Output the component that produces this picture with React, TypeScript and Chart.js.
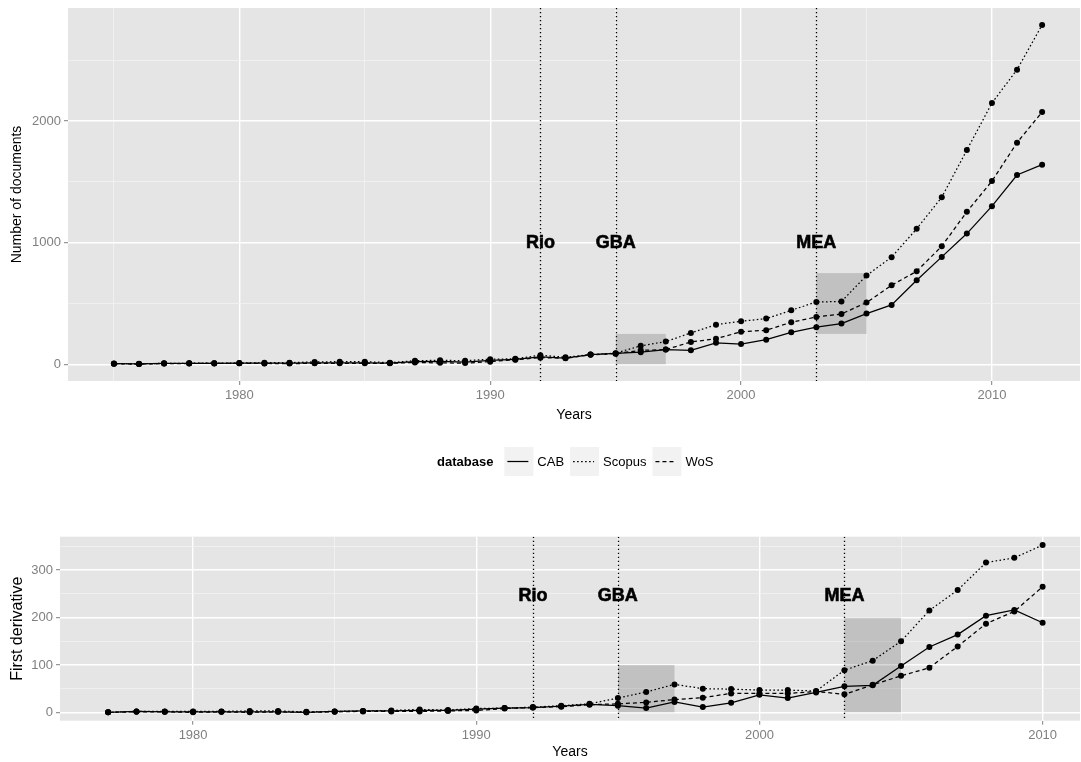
import React, { useEffect, useRef } from "react";
import { Chart, registerables } from "chart.js";

Chart.register(...registerables);

const FONT = '"Liberation Sans", Arial, Helvetica, sans-serif';

// ---------- data ----------
const docYears = [
  1975, 1976, 1977, 1978, 1979, 1980, 1981, 1982, 1983, 1984, 1985, 1986, 1987,
  1988, 1989, 1990, 1991, 1992, 1993, 1994, 1995, 1996, 1997, 1998, 1999, 2000,
  2001, 2002, 2003, 2004, 2005, 2006, 2007, 2008, 2009, 2010, 2011, 2012,
];
const cabDocs = [
  5, 3, 7, 8, 8, 9, 9, 10, 11, 13, 12, 10, 22, 24, 18, 33, 40, 62, 52, 80, 90,
  100, 121, 115, 177, 167, 203, 263, 305, 335, 417, 488, 691, 883, 1075, 1300,
  1556, 1641,
];
const scopusDocs = [
  6, 4, 8, 9, 9, 11, 13, 14, 20, 22, 22, 14, 30, 33, 30, 42, 45, 75, 58, 80, 92,
  152, 187, 258, 326, 354, 376, 444, 513, 516, 730, 881, 1114, 1374, 1761, 2148,
  2422, 2790,
];
const wosDocs = [
  4, 2, 6, 7, 7, 8, 7, 6, 8, 8, 9, 8, 15, 12, 10, 22, 38, 55, 50, 78, 88, 115,
  121, 184, 210, 268, 280, 346, 389, 414, 508, 650, 765, 971, 1254, 1506, 1822,
  2074,
];

const derivYears = [
  1977, 1978, 1979, 1980, 1981, 1982, 1983, 1984, 1985, 1986, 1987, 1988, 1989,
  1990, 1991, 1992, 1993, 1994, 1995, 1996, 1997, 1998, 1999, 2000, 2001, 2002,
  2003, 2004, 2005, 2006, 2007, 2008, 2009, 2010,
];
const cabDeriv = [
  0, 2, 1, 1, 1, 1, 1, 0, 2, 3, 3, 4, 4, 7, 9, 10, 13, 17, 14, 9, 22, 11, 20,
  37, 30, 42, 55, 57, 98, 138, 164, 204, 216, 189,
];
const scopusDeriv = [
  0, 2, 2, 2, 2, 3, 3, 1, 2, 3, 4, 6, 5, 8, 9, 11, 14, 18, 30, 43, 59, 50, 49,
  47, 47, 45, 89, 109, 150, 215, 258, 316, 326, 353,
];
const wosDeriv = [
  0, 1, 1, 0, 1, 0, 1, 0, 1, 2, 2, 2, 3, 4, 8, 10, 12, 16, 18, 21, 27, 31, 40,
  40, 40, 44, 38, 58, 77, 94, 139, 187, 213, 265,
];

const seriesNames = ["CAB", "Scopus", "WoS"];
const seriesDash = [[], [1.6, 2.4], [4, 3]];

const eventNames = ["Rio", "GBA", "MEA"];
const eventYears = [1992, 1995, 2003];

const shadeStart = [1995, 2003];
const shadeEnd = [1997, 2005];
const topShadeLow = [0, 250];
const topShadeHigh = [250, 750];
const bottomShadeLow = [0, 0];
const bottomShadeHigh = [100, 200];

const topLabelValue = 1000;
const bottomLabelValue = 245;

const yearTicks = [1975, 1980, 1985, 1990, 1995, 2000, 2005, 2010, 2015];
const docTicks = [0, 500, 1000, 1500, 2000, 2500];
const derivTicks = [0, 50, 100, 150, 200, 250, 300, 350];

// ---------- helpers ----------
function makeDatasets(years: number[], series: number[][]) {
  return series.map((vals, i) => ({
    label: seriesNames[i],
    data: years.map((yr, j) => ({ x: yr, y: vals[j] })),
    borderColor: "#000",
    backgroundColor: "#000",
    borderWidth: 1.25,
    borderDash: seriesDash[i],
    pointRadius: 3,
    pointBorderWidth: 0,
    pointBackgroundColor: "#000",
    tension: 0,
    fill: false,
  }));
}

function annotationPlugin(lows: number[], highs: number[], labelValue: number) {
  return {
    id: "annotations",
    beforeDraw(chart: any) {
      const { ctx, chartArea: a } = chart;
      ctx.save();
      ctx.fillStyle = "#E5E5E5";
      ctx.fillRect(a.left, a.top, a.right - a.left, a.bottom - a.top);
      ctx.restore();
    },
    beforeDatasetsDraw(chart: any) {
      const { ctx, chartArea: a } = chart;
      const x = chart.scales.x;
      const y = chart.scales.y;
      ctx.save();
      ctx.beginPath();
      ctx.rect(a.left, a.top, a.right - a.left, a.bottom - a.top);
      ctx.clip();
      ctx.fillStyle = "rgba(0,0,0,0.155)";
      shadeStart.forEach((s, i) => {
        const x0 = x.getPixelForValue(s);
        const x1 = x.getPixelForValue(shadeEnd[i]);
        const y0 = y.getPixelForValue(highs[i]);
        const y1 = y.getPixelForValue(lows[i]);
        ctx.fillRect(x0, y0, x1 - x0, y1 - y0);
      });
      ctx.strokeStyle = "#000";
      ctx.lineWidth = 1.3;
      ctx.setLineDash([1.3, 2.7]);
      eventYears.forEach((yr) => {
        const px = Math.round(x.getPixelForValue(yr)) + 0.5;
        ctx.beginPath();
        ctx.moveTo(px, a.top);
        ctx.lineTo(px, a.bottom);
        ctx.stroke();
      });
      ctx.restore();
    },
    afterDatasetsDraw(chart: any) {
      const { ctx } = chart;
      const x = chart.scales.x;
      const y = chart.scales.y;
      ctx.save();
      ctx.fillStyle = "#000";
      ctx.strokeStyle = "#000";
      ctx.lineWidth = 0.6;
      ctx.font = `bold 18px ${FONT}`;
      ctx.textAlign = "center";
      ctx.textBaseline = "middle";
      eventNames.forEach((n, i) => {
        const px = x.getPixelForValue(eventYears[i]);
        const py = y.getPixelForValue(labelValue);
        ctx.fillText(n, px, py);
        ctx.strokeText(n, px, py);
      });
      ctx.restore();
    },
  };
}

const legendPlugin = {
  id: "ggLegend",
  afterDraw(chart: any) {
    const { ctx } = chart;
    const cy = 462;
    ctx.save();
    ctx.textBaseline = "middle";
    ctx.textAlign = "left";
    ctx.fillStyle = "#000";
    ctx.font = `bold 13px ${FONT}`;
    let cx = 437;
    ctx.fillText("database", cx, cy);
    cx += ctx.measureText("database").width + 11;
    ctx.font = `13px ${FONT}`;
    seriesNames.forEach((n, i) => {
      ctx.fillStyle = "#F2F2F2";
      ctx.fillRect(cx, cy - 15, 29, 29);
      ctx.strokeStyle = "#000";
      ctx.lineWidth = 1.25;
      ctx.setLineDash(seriesDash[i]);
      ctx.beginPath();
      ctx.moveTo(cx + 3, cy - 0.5);
      ctx.lineTo(cx + 24, cy - 0.5);
      ctx.stroke();
      ctx.setLineDash([]);
      cx += 29 + 4;
      ctx.fillStyle = "#000";
      ctx.fillText(n, cx, cy);
      cx += ctx.measureText(n).width + 6;
    });
    ctx.restore();
  },
};

function scalesFor(cfg: {
  xMin: number;
  xMax: number;
  yMin: number;
  yMax: number;
  yTicks: number[];
  yMajor: number;
  yTitle: string;
  xHeight: number;
  yWidth: number;
  xTitlePad: number;
  xTitleSize: number;
  yTitleSize: number;
  yTitlePad: number;
}) {
  const tickFont = { size: 13, family: FONT };
  const isMajorX = (v: number) => v % 10 === 0;
  const isMajorY = (v: number) => v % cfg.yMajor === 0;
  const noPad = (s: any) => {
    s.paddingTop = 0;
    s.paddingBottom = 0;
    s.paddingLeft = 0;
    s.paddingRight = 0;
  };
  return {
    x: {
      type: "linear",
      min: cfg.xMin,
      max: cfg.xMax,
      afterFit(s: any) {
        s.height = cfg.xHeight;
        noPad(s);
      },
      afterBuildTicks(s: any) {
        s.ticks = yearTicks
          .filter((v) => v >= cfg.xMin && v <= cfg.xMax)
          .map((v) => ({ value: v }));
      },
      ticks: {
        autoSkip: false,
        maxRotation: 0,
        minRotation: 0,
        color: "#7F7F7F",
        font: tickFont,
        padding: 3,
        callback: (v: number) => (isMajorX(v) ? String(v) : ""),
      },
      grid: {
        color: (c: any) => (c.tick && isMajorX(c.tick.value) ? "#FFFFFF" : "#F2F2F2"),
        lineWidth: (c: any) => (c.tick && isMajorX(c.tick.value) ? 1.4 : 0.8),
        tickColor: (c: any) =>
          c.tick && isMajorX(c.tick.value) ? "#7F7F7F" : "rgba(0,0,0,0)",
        tickLength: 4,
        tickWidth: 1,
        drawTicks: true,
      },
      border: { display: false },
      title: {
        display: true,
        text: "Years",
        color: "#000",
        font: { size: cfg.xTitleSize, family: FONT },
        padding: { top: 0, bottom: cfg.xTitlePad },
      },
    },
    y: {
      type: "linear",
      min: cfg.yMin,
      max: cfg.yMax,
      afterFit(s: any) {
        s.width = cfg.yWidth;
        noPad(s);
      },
      afterBuildTicks(s: any) {
        s.ticks = cfg.yTicks
          .filter((v) => v >= cfg.yMin && v <= cfg.yMax)
          .map((v) => ({ value: v }));
      },
      ticks: {
        autoSkip: false,
        color: "#7F7F7F",
        font: tickFont,
        padding: 3,
        callback: (v: number) => (isMajorY(v) ? String(v) : ""),
      },
      grid: {
        color: (c: any) => (c.tick && isMajorY(c.tick.value) ? "#FFFFFF" : "#F2F2F2"),
        lineWidth: (c: any) => (c.tick && isMajorY(c.tick.value) ? 1.4 : 0.8),
        tickColor: (c: any) =>
          c.tick && isMajorY(c.tick.value) ? "#7F7F7F" : "rgba(0,0,0,0)",
        tickLength: 4,
        tickWidth: 1,
        drawTicks: true,
      },
      border: { display: false },
      title: {
        display: true,
        text: cfg.yTitle,
        color: "#000",
        font: { size: cfg.yTitleSize, family: FONT },
        padding: { top: cfg.yTitlePad, bottom: 0 },
      },
    },
  };
}

export default function App() {
  const topRef = useRef<HTMLCanvasElement>(null);
  const bottomRef = useRef<HTMLCanvasElement>(null);

  useEffect(() => {
    Chart.defaults.font.family = FONT;
    const top = new Chart(topRef.current as HTMLCanvasElement, {
      type: "line",
      data: { datasets: makeDatasets(docYears, [cabDocs, scopusDocs, wosDocs]) as any },
      options: {
        animation: false,
        responsive: false,
        devicePixelRatio: 1,
        events: [],
        layout: { autoPadding: false, padding: { top: 8, right: 1, bottom: 59, left: 0 } },
        plugins: { legend: { display: false }, tooltip: { enabled: false } },
        scales: scalesFor({
          xMin: 1973.17,
          xMax: 2013.51,
          yMin: -137,
          yMax: 2929,
          yTicks: docTicks,
          yMajor: 1000,
          yTitle: "Number of documents",
          xHeight: 50,
          yWidth: 68,
          xTitlePad: 7,
          xTitleSize: 14,
          yTitleSize: 14,
          yTitlePad: 9,
        }) as any,
      },
      plugins: [annotationPlugin(topShadeLow, topShadeHigh, topLabelValue), legendPlugin],
    });
    const bottom = new Chart(bottomRef.current as HTMLCanvasElement, {
      type: "line",
      data: { datasets: makeDatasets(derivYears, [cabDeriv, scopusDeriv, wosDeriv]) as any },
      options: {
        animation: false,
        responsive: false,
        devicePixelRatio: 1,
        events: [],
        layout: { autoPadding: false, padding: { top: 46.7, right: 1, bottom: 0, left: 0 } },
        plugins: { legend: { display: false }, tooltip: { enabled: false } },
        scales: scalesFor({
          xMin: 1975.3,
          xMax: 2011.32,
          yMin: -17.65,
          yMax: 370.65,
          yTicks: derivTicks,
          yMajor: 100,
          yTitle: "First derivative",
          xHeight: 41.3,
          yWidth: 60,
          xTitlePad: 1,
          xTitleSize: 14,
          yTitleSize: 16,
          yTitlePad: 8,
        }) as any,
      },
      plugins: [annotationPlugin(bottomShadeLow, bottomShadeHigh, bottomLabelValue)],
    });
    return () => {
      top.destroy();
      bottom.destroy();
    };
  }, []);

  return (
    <div
      style={{
        position: "absolute",
        left: 0,
        top: 0,
        width: 1081,
        height: 762,
        overflow: "hidden",
        background: "#fff",
      }}
    >
      <canvas
        ref={topRef}
        width={1081}
        height={490}
        style={{ position: "absolute", left: 0, top: 0, width: 1081, height: 490 }}
      />
      <canvas
        ref={bottomRef}
        width={1081}
        height={272}
        style={{ position: "absolute", left: 0, top: 490, width: 1081, height: 272 }}
      />
    </div>
  );
}
